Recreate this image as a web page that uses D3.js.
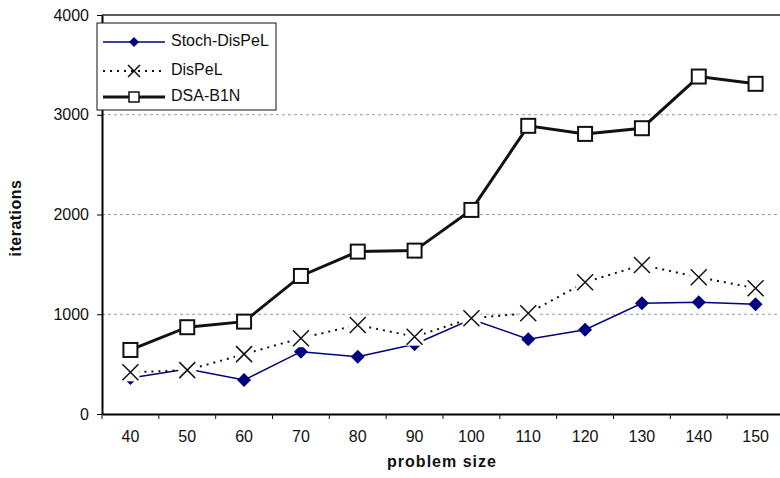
<!DOCTYPE html>
<html>
<head>
<meta charset="utf-8">
<script src="https://cdn.jsdelivr.net/npm/d3@7/dist/d3.min.js"></script>
<style>
  body { margin: 0; background: #fff; }
  svg text { font-family: "Liberation Sans", Arial, sans-serif; fill: #111; }
</style>
</head>
<body>
<script>
// problem sizes on the x axis
var sizes = [40, 50, 60, 70, 80, 90, 100, 110, 120, 130, 140, 150];

// iterations per algorithm
var stochDispel = [360, 450, 340, 625, 575, 700, 950, 750, 845, 1110, 1120, 1100];
var dispel      = [418, 440, 600, 760, 893, 775, 960, 1010, 1320, 1494, 1371, 1261];
var dsaB1n      = [642, 870, 926, 1384, 1628, 1638, 2046, 2889, 2808, 2865, 3383, 3310];

var yTicks = [0, 1000, 2000, 3000, 4000];
var seriesNames = ["Stoch-DisPeL", "DisPeL", "DSA-B1N"];

// set the dimensions and margins of the graph
var margin = {top: 15, left: 102},
    width = 682,
    height = 399;

var x = d3.scaleBand()
          .domain(sizes)
          .range([0, width]);
var y = d3.scaleLinear()
          .domain([0, 4000])
          .range([height, 0]);

var svg = d3.select("body").append("svg")
    .attr("width", 780)
    .attr("height", 478)
  .append("g")
    .attr("transform", "translate(" + margin.left + "," + margin.top + ")");

// dashed grid lines
svg.selectAll(".grid")
    .data(yTicks.filter(function(d) { return d > 0 && d < 4000; }))
  .enter().append("line")
    .attr("x1", 0)
    .attr("x2", width)
    .attr("y1", function(d) { return y(d); })
    .attr("y2", function(d) { return y(d); })
    .attr("stroke", "#9a9a9a")
    .attr("stroke-dasharray", "3,3");

// top border of the plot area
svg.append("line")
    .attr("x1", 0).attr("x2", width)
    .attr("y1", y(4000)).attr("y2", y(4000))
    .attr("stroke", "#222")
    .attr("stroke-width", 1.5);

// y axis
var yAxis = svg.append("g")
    .call(d3.axisLeft(y).tickValues(yTicks).tickFormat(d3.format("d"))
      .tickSize(5).tickSizeOuter(0).tickPadding(8));
yAxis.selectAll("text").style("font-size", "16px");
yAxis.select(".domain").attr("stroke-width", 2);

// x axis: labels centred on bands, ticks on band edges
var xAxis = svg.append("g")
    .attr("transform", "translate(0," + height + ")")
    .call(d3.axisBottom(x).tickSize(0).tickPadding(17));
xAxis.selectAll("text").style("font-size", "16px");
xAxis.select(".domain").attr("stroke-width", 2);

var edges = sizes.map(function(d) { return x(d); }).concat([width]);
svg.selectAll(".xtick")
    .data(edges)
  .enter().append("line")
    .attr("x1", function(d) { return d; })
    .attr("x2", function(d) { return d; })
    .attr("y1", height)
    .attr("y2", height + 5)
    .attr("stroke", "#111");

// axis titles
svg.append("text")
    .attr("transform", "translate(" + (17 - margin.left) + "," + (218 - margin.top) + ") rotate(-90)")
    .attr("text-anchor", "middle")
    .attr("dominant-baseline", "middle")
    .style("font-size", "16px")
    .style("font-weight", "bold")
    .style("letter-spacing", "0.5px")
    .text("iterations");

svg.append("text")
    .attr("x", 442 - margin.left)
    .attr("y", 463 - margin.top)
    .attr("text-anchor", "middle")
    .attr("dominant-baseline", "middle")
    .style("font-size", "16px")
    .style("font-weight", "bold")
    .style("letter-spacing", "1px")
    .text("problem size");

function cx(i) { return x(sizes[i]) + x.bandwidth() / 2; }

var line = d3.line()
    .x(function(d, i) { return cx(i); })
    .y(function(d) { return y(d); });

// marker helpers
function diamond(g) {
  g.append("path")
      .attr("d", "M0,-7L7,0L0,7L-7,0Z")
      .attr("fill", "#000080");
}
function cross(g) {
  g.append("rect")
      .attr("x", -9).attr("y", -9)
      .attr("width", 18).attr("height", 18)
      .attr("fill", "#fff");
  g.append("path")
      .attr("d", "M-8,-8L8,8M8,-8L-8,8")
      .attr("stroke", "#111")
      .attr("stroke-width", 1.5)
      .attr("fill", "none");
}
function square(g) {
  g.append("rect")
      .attr("x", -7).attr("y", -7)
      .attr("width", 14).attr("height", 14)
      .attr("fill", "#fff")
      .attr("stroke", "#111")
      .attr("stroke-width", 2);
}

var series = [
  {values: stochDispel, color: "#000080", width: 1.5, dash: null, marker: diamond},
  {values: dispel, color: "#111", width: 2, dash: "2,5", marker: cross},
  {values: dsaB1n, color: "#111", width: 3, dash: null, marker: square}
];

series.forEach(function(s) {
  svg.append("path")
      .datum(s.values)
      .attr("fill", "none")
      .attr("stroke", s.color)
      .attr("stroke-width", s.width)
      .attr("stroke-dasharray", s.dash)
      .attr("d", line);

  s.values.forEach(function(v, i) {
    var g = svg.append("g")
        .attr("transform", "translate(" + cx(i) + "," + y(v) + ")");
    s.marker(g);
  });
});

// legend
var legend = svg.append("g")
    .attr("transform", "translate(" + (97 - margin.left) + "," + (23 - margin.top) + ")");

legend.append("rect")
    .attr("width", 179)
    .attr("height", 87)
    .attr("fill", "#fff")
    .attr("stroke", "#111")
    .attr("stroke-width", 1);

var rowY = [19, 48, 74];
series.forEach(function(s, i) {
  var row = legend.append("g")
      .attr("transform", "translate(0," + rowY[i] + ")");
  row.append("line")
      .attr("x1", 6).attr("x2", 68)
      .attr("stroke", s.color)
      .attr("stroke-width", s.width)
      .attr("stroke-dasharray", s.dash);
  var m = row.append("g").attr("transform", "translate(37,0)");
  if (i === 1) {
    m.append("path")
        .attr("d", "M-6,-6L6,6M6,-6L-6,6")
        .attr("stroke", "#111")
        .attr("stroke-width", 1.5);
  } else if (i === 0) {
    m.append("path").attr("d", "M0,-5L5,0L0,5L-5,0Z").attr("fill", "#000080");
  } else {
    m.append("rect")
        .attr("x", -5).attr("y", -5)
        .attr("width", 10).attr("height", 10)
        .attr("fill", "#fff")
        .attr("stroke", "#111")
        .attr("stroke-width", 1.5);
  }
  row.append("text")
      .attr("x", 74)
      .attr("dominant-baseline", "middle")
      .style("font-size", "16px")
      .text(seriesNames[i]);
});
</script>
</body>
</html>
